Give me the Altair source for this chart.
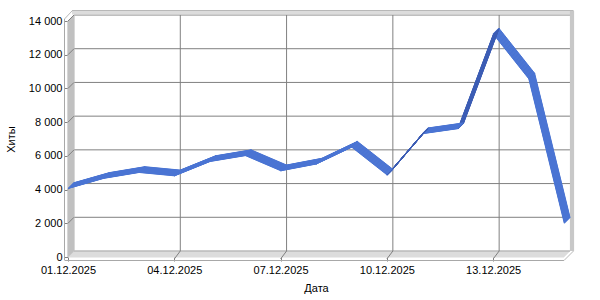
import altair as alt
import numpy as np
import pandas as pd

# ---- data ----
dates = ["01.12.2025", "02.12.2025", "03.12.2025", "04.12.2025", "05.12.2025",
         "06.12.2025", "07.12.2025", "08.12.2025", "09.12.2025", "10.12.2025",
         "11.12.2025", "12.12.2025", "13.12.2025", "14.12.2025", "15.12.2025"]
hits = [4050, 4650, 5000, 4800, 5650, 6000, 5100, 5500, 6500, 4850,
        7300, 7600, 13200, 10550, 2000]
y_ticks = [0, 2000, 4000, 6000, 8000, 10000, 12000, 14000]
x_tick_idx = [0, 3, 6, 9, 12]

W, H = 496, 236
DX, DY = 6, 6          # 3D depth offset in px
xmax = len(dates) - 1
ymax = y_ticks[-1]

FONT = "Liberation Sans"
GRID = "#808080"

xs = alt.Scale(domain=[0, xmax], nice=False, zero=False)
ys = alt.Scale(domain=[0, ymax], nice=False, zero=True)

label_list = "[" + ",".join("'%s'" % d for d in dates) + "]"

x_axis = alt.Axis(values=x_tick_idx, labelExpr=label_list + "[datum.value]",
                  grid=False, domain=False, ticks=True, tickSize=4, tickColor=GRID,
                  labelFont=FONT, labelFontSize=11, labelColor="black", labelPadding=3,
                  title="Дата", titleFont=FONT, titleFontSize=11, titleFontWeight="normal",
                  titleColor="black", titlePadding=7, labelFlush=False)
y_axis = alt.Axis(values=y_ticks,
                  labelExpr="replace(format(datum.value, ',d'), ',', ' ')",
                  grid=False, domain=False, ticks=True, tickSize=4, tickColor=GRID,
                  labelFont=FONT, labelFontSize=11, labelColor="black", labelPadding=2,
                  title="Хиты", titleFont=FONT, titleFontSize=11, titleFontWeight="normal",
                  titleColor="black", titlePadding=12)


def seg_layer(rows, color, width, xo=0, x2o=0, yo=0, y2o=0):
    df = pd.DataFrame(rows, columns=["x", "x2", "y", "y2"])
    return alt.Chart(df).mark_rule(
        color=color, strokeWidth=width, xOffset=xo, x2Offset=x2o,
        yOffset=yo, y2Offset=y2o).encode(
        x=alt.X("x:Q", scale=xs, axis=x_axis),
        x2="x2:Q",
        y=alt.Y("y:Q", scale=ys, axis=y_axis),
        y2="y2:Q")


layers = []
steps = np.arange(0, DX + 0.01, 0.5)

# floor top surface
for k in steps:
    layers.append(seg_layer([[0, xmax, 0, 0]], "#dcdcdc", 1.2,
                            xo=k, x2o=k, yo=-k, y2o=-k))

# back wall horizontal grid lines
layers.append(seg_layer([[0, xmax, v, v] for v in y_ticks[1:]], GRID, 1,
                        xo=DX, x2o=DX, yo=-DY, y2o=-DY))
layers.append(seg_layer([[0, xmax, 0, 0]], "#a8a8a8", 1,
                        xo=DX, x2o=DX, yo=-DY, y2o=-DY))
# back wall vertical grid lines
layers.append(seg_layer([[d, d, 0, ymax] for d in x_tick_idx[1:]], GRID, 1,
                        xo=DX, x2o=DX, yo=-DY, y2o=-DY))
# floor diagonals under the vertical grid lines
layers.append(seg_layer([[d, d, 0, 0] for d in x_tick_idx[1:]], GRID, 1,
                        xo=0, x2o=DX, yo=2, y2o=-DY))

# left wall (side face)
for k in steps:
    layers.append(seg_layer([[0, 0, 0, ymax]], "#c0c0c0", 1.2,
                            xo=k, x2o=k, yo=-k, y2o=-k))
# left wall diagonals
layers.append(seg_layer([[0, 0, v, v] for v in y_ticks[1:]], GRID, 1,
                        xo=0, x2o=DX, yo=0, y2o=-DY))

# left wall front face outline
layers.append(seg_layer([[0, 0, 0, ymax]], "#a8a8a8", 1, xo=-3.5, x2o=-3.5, yo=3, y2o=-2))
layers.append(seg_layer([[0, 0, ymax, ymax]], "#b8b8b8", 1, xo=-3.5, x2o=4, yo=-2, y2o=-10))
# floor front face outline
layers.append(seg_layer([[0, xmax, 0, 0]], "#a8a8a8", 1, xo=-3.5, x2o=0, yo=3.5, y2o=3.5))
layers.append(seg_layer([[xmax, xmax, 0, 0]], "#b8b8b8", 1, xo=0, x2o=9.5, yo=3.5, y2o=-6))

# top strip of back wall
for k in np.arange(7, 10.01, 0.5):
    layers.append(seg_layer([[0, xmax, ymax, ymax]], "#dcdcdc", 1.2,
                            xo=4, x2o=9.5, yo=-k, y2o=-k))
layers.append(seg_layer([[0, xmax, ymax, ymax]], "#b8b8b8", 1,
                        xo=4, x2o=9.5, yo=-10.5, y2o=-10.5))
# right strip of back wall
for k in np.arange(6.5, 9.51, 0.5):
    layers.append(seg_layer([[xmax, xmax, 0, ymax]], "#c8c8c8", 1.2,
                            xo=k, x2o=k, yo=-6, y2o=-10))

# ---- the 3D ribbon ----
px_per_unit_y = H / ymax
px_per_day = W / xmax
rows = []
for i in range(len(hits) - 1):
    rise = (hits[i + 1] - hits[i]) * px_per_unit_y
    shade = "dark" if rise > px_per_day else "light"
    rows.append({"x": i, "y": hits[i], "seg": i, "shade": shade})
    rows.append({"x": i + 1, "y": hits[i + 1], "seg": i, "shade": shade})
seg_df = pd.DataFrame(rows)

for k in np.arange(0.25, DX + 0.01, 0.25):
    layers.append(
        alt.Chart(seg_df).mark_line(xOffset=k, yOffset=-k, strokeWidth=1.0,
                                    strokeCap="round", strokeJoin="round").encode(
            x=alt.X("x:Q", scale=xs, axis=x_axis),
            y=alt.Y("y:Q", scale=ys, axis=y_axis),
            detail="seg:N",
            order="x:Q",
            color=alt.Color("shade:N", legend=None,
                            scale=alt.Scale(domain=["light", "dark"],
                                            range=["#4a74d3", "#3b5cb4"]))))

chart = alt.layer(*layers).properties(
    width=W, height=H,
    padding={"left": 68, "top": 21, "right": 36, "bottom": 43},
    autosize=alt.AutoSizeParams(type="none"),
    background="white",
).configure_view(stroke=None)

chart.save("out.html", embed_options={"renderer": "svg", "actions": False})
